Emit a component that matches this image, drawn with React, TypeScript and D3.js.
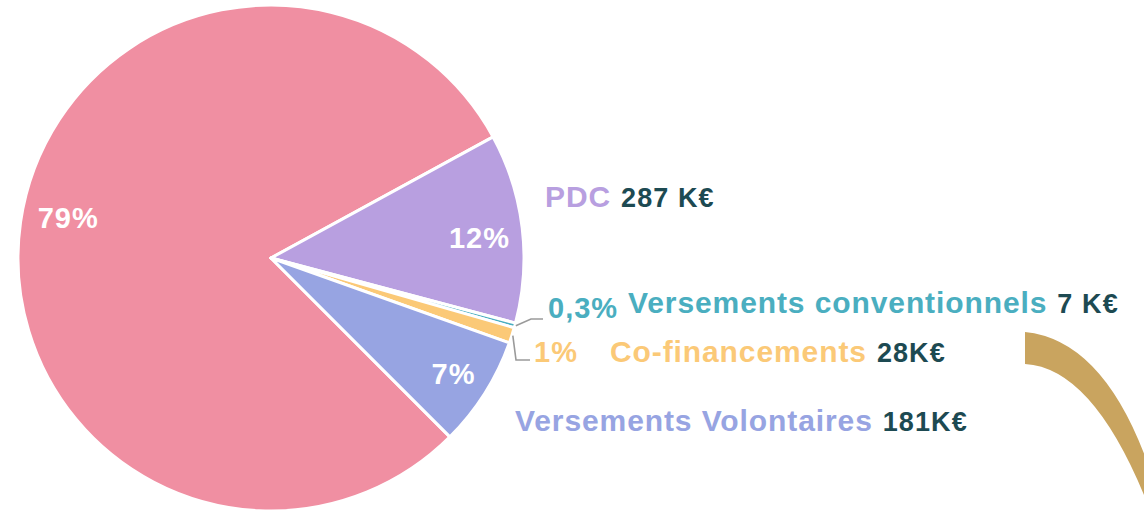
import React from 'react';
import * as d3 from 'd3';

// chart data
const categories = ['Autres', 'PDC', 'Versements conventionnels', 'Co-financements', 'Versements Volontaires'];
const shares = [79, 12, 0.3, 1, 7];
const pctLabels = ['79%', '12%', '0,3%', '1%', '7%'];
const amounts = ['', '287 K€', '7 K€', '28K€', '181K€'];
const colors = ['#f08fa2', '#b89fe0', '#4aaec0', '#fbc977', '#97a4e2'];

const width = 1144;
const height = 512;
const cx = 271;
const cy = 258;
const radius = 253;
const font = '"Liberation Sans", Arial, Helvetica, sans-serif';

// where each legend line sits (x, baseline), same order as categories
const legendPos: ([number, number] | null)[] = [null, [545, 207], [628, 313], [610, 362], [515, 431]];
// small nudges for the inside labels
const labelNudge: { [i: number]: [number, number] } = { 0: [5, -10], 1: [0, 5], 4: [5, 3] };
// slices too thin for an inside label get one outside with an elbow line
const outsideLabel: { [i: number]: { elbow: [number, number]; end: number; tx: number; ty: number } } = {
  2: { elbow: [531, 319], end: 543, tx: 548, ty: 318 },
  3: { elbow: [516, 360], end: 530, tx: 534, ty: 362 },
};

const App: React.FC = () => {
  const pie = d3
    .pie<number>()
    .sort(null)
    .value((d) => d)
    .startAngle(-225 * Math.PI / 180)
    .endAngle(135 * Math.PI / 180);
  const arcs = pie(shares);

  const arc = d3.arc<d3.PieArcDatum<number>>().innerRadius(0).outerRadius(radius);
  const labelArc = d3.arc<d3.PieArcDatum<number>>().innerRadius(210).outerRadius(210);
  const edgeArc = d3.arc<d3.PieArcDatum<number>>().innerRadius(radius + 1).outerRadius(radius + 1);

  return (
    <svg width={width} height={height} style={{ position: 'absolute', left: 0, top: 0 }} fontFamily={font} fontWeight="bold">
      <g transform={`translate(${cx},${cy})`}>
        {arcs.map((a, i) => (
          <path key={i} d={arc(a) || ''} fill={colors[i]} stroke="#fff" strokeWidth={3} strokeLinejoin="round" />
        ))}
        {arcs.map((a, i) => {
          if (outsideLabel[i]) return null;
          const [x, y] = labelArc.centroid(a);
          const [nx, ny] = labelNudge[i] || [0, 0];
          return (
            <text key={i} x={x + nx} y={y + ny} dy="0.36em" textAnchor="middle" fill="#fff" fontSize={29} letterSpacing={1}>
              {pctLabels[i]}
            </text>
          );
        })}
      </g>

      {arcs.map((a, i) => {
        const o = outsideLabel[i];
        if (!o) return null;
        const [ex, ey] = edgeArc.centroid(a);
        const pts: [number, number][] = [[ex + cx, ey + cy], o.elbow, [o.end, o.elbow[1]]];
        return (
          <g key={i}>
            <path d={d3.line()(pts) || ''} fill="none" stroke="#9a9a9a" strokeWidth={1.6} />
            <text x={o.tx} y={o.ty} fill={colors[i]} fontSize={29} letterSpacing={1}>
              {pctLabels[i]}
            </text>
          </g>
        );
      })}

      {categories.map((c, i) => {
        const p = legendPos[i];
        if (!p) return null;
        return (
          <text key={c} x={p[0]} y={p[1]} fontSize={30} letterSpacing={0.9}>
            <tspan fill={colors[i]}>{c}</tspan>
            <tspan dx={10} fill="#1d4a52" fontSize={27} letterSpacing={1.1}>{amounts[i]}</tspan>
          </text>
        );
      })}

      {/* decorative gold swoosh */}
      <path d="M1025,332 Q1105,340 1150,470 L1150,510 Q1095,368 1025,364 Z" fill="#c9a45f" />
    </svg>
  );
};

export default App;
